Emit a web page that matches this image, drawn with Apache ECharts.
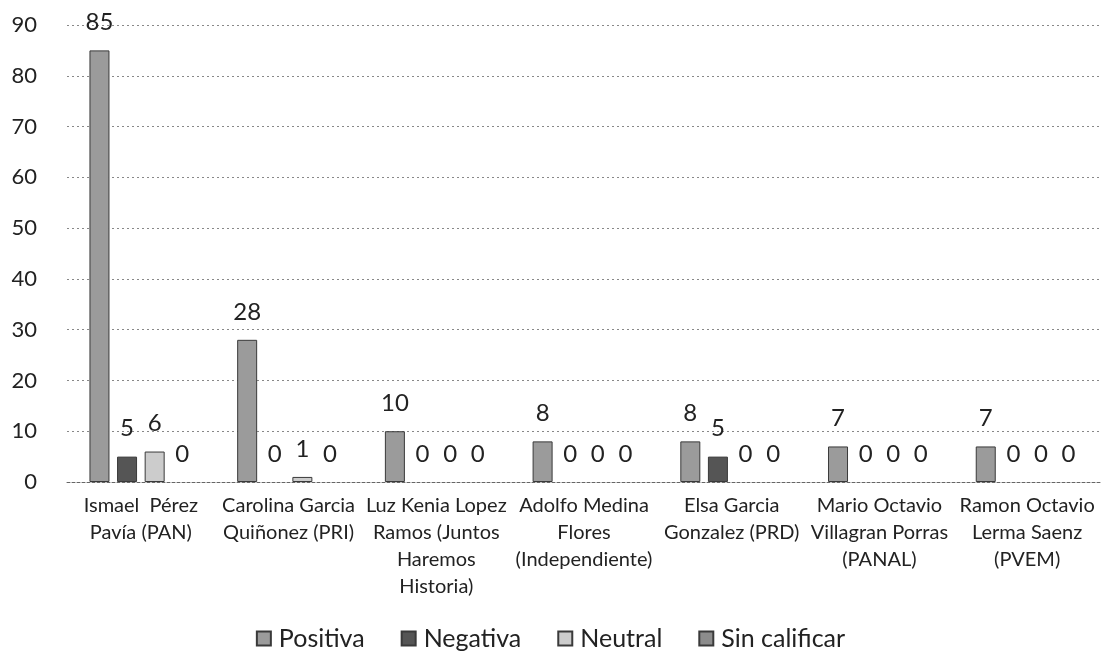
<!DOCTYPE html>
<html>
<head>
<meta charset="utf-8">
<script src="https://cdn.jsdelivr.net/npm/echarts@6/dist/echarts.min.js"></script>
<style>
  html, body { margin: 0; padding: 0; background: #fff; }
  #chart { width: 1101px; height: 652px; }
</style>
</head>
<body>
<div id="chart"></div>
<script>
const candidates = [
    "Ismael  Pérez\nPavía (PAN)",
    "Carolina Garcia\nQuiñonez (PRI)",
    "Luz Kenia Lopez\nRamos (Juntos\nHaremos\nHistoria)",
    "Adolfo Medina\nFlores\n(Independiente)",
    "Elsa Garcia\nGonzalez (PRD)",
    "Mario Octavio\nVillagran Porras\n(PANAL)",
    "Ramon Octavio\nLerma Saenz\n(PVEM)"
];
const positiva = [85, 28, 10, 8, 8, 7, 7];
const negativa = [5, 0, 0, 0, 5, 0, 0];
const neutral = [6, 1, 0, 0, 0, 0, 0];
const sinCalificar = [0, 0, 0, 0, 0, 0, 0];
const yTicks = [0, 10, 20, 30, 40, 50, 60, 70, 80, 90];

const font = "Lato, 'Open Sans', sans-serif";

var chart = echarts.init(document.getElementById('chart'));

function serie(name, data, color) {
    return {
        name: name,
        type: "bar",
        // barras con valor 0 sin borde (no se ven)
        data: data.map(v => v === 0 ? { value: v, itemStyle: { borderWidth: 0 } } : v),
        barWidth: 20,
        barGap: "38%",
        itemStyle: { color: color, borderColor: "#3a3a3a", borderWidth: 1 },
        label: {
            show: true,
            position: "top",
            distance: 16,
            color: "#222",
            fontSize: 24,
            fontFamily: font
        }
    };
}

chart.setOption({
    animation: false,
    textStyle: { fontFamily: font },
    grid: {
        left: 67,
        right: 0,
        top: 25,
        bottom: 170
    },
    legend: {
        top: 621,
        left: "center",
        itemWidth: 14,
        itemHeight: 14,
        itemGap: 36,
        icon: "rect",
        textStyle: { fontSize: 25, color: "#222", fontFamily: font, padding: [0, 0, 0, 3] }
    },
    xAxis: {
        type: "category",
        data: candidates,
        axisLine: { lineStyle: { color: "#666", type: [3, 2] } },
        axisTick: { show: false },
        axisLabel: {
            color: "#222",
            fontSize: 20,
            lineHeight: 27,
            margin: 10,
            interval: 0,
            fontFamily: font
        }
    },
    yAxis: {
        type: "value",
        min: yTicks[0],
        max: yTicks[yTicks.length - 1],
        interval: 10,
        axisLine: { show: false },
        axisTick: { show: false },
        axisLabel: {
            color: "#222",
            fontSize: 22,
            margin: 30,
            fontFamily: font
        },
        splitLine: { lineStyle: { color: "#888", type: [2, 3], width: 1 } }
    },
    series: [
        serie("Positiva", positiva, "#9b9b9b"),
        serie("Negativa", negativa, "#555555"),
        serie("Neutral", neutral, "#cccccc"),
        serie("Sin calificar", sinCalificar, "#8c8c8c")
    ]
});

window.addEventListener("resize", () => {
    if (chart) chart.resize();
});
</script>
</body>
</html>
